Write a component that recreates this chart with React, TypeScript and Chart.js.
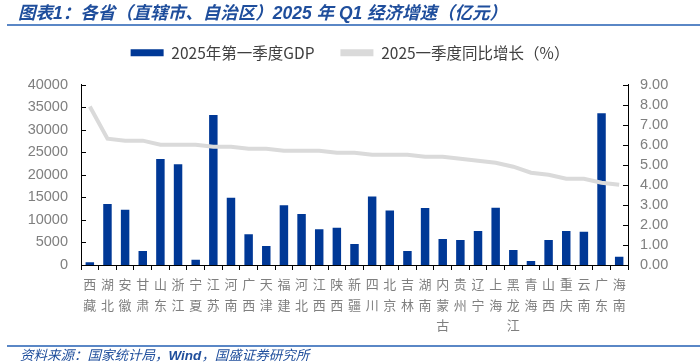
import React, { useEffect, useRef } from "react";
import { Chart, registerables } from "chart.js";

Chart.register(...registerables);

const provinces: string[][] = [
  ["西", "藏"], ["湖", "北"], ["安", "徽"], ["甘", "肃"], ["山", "东"], ["浙", "江"], ["宁", "夏"],
  ["江", "苏"], ["河", "南"], ["广", "西"], ["天", "津"], ["福", "建"], ["河", "北"], ["江", "西"],
  ["陕", "西"], ["新", "疆"], ["四", "川"], ["北", "京"], ["吉", "林"], ["湖", "南"], ["内", "蒙", "古"],
  ["贵", "州"], ["辽", "宁"], ["上", "海"], ["黑", "龙", "江"], ["青", "海"], ["山", "西"], ["重", "庆"],
  ["云", "南"], ["广", "东"], ["海", "南"],
];

const gdpQ1 = [
  600, 13530, 12270, 3100, 23500, 22300, 1180, 33260, 14930, 6790, 4210, 13220, 11310, 7900,
  8270, 4650, 15200, 12100, 3100, 12640, 5770, 5540, 7540, 12700, 3330, 890, 5540, 7540, 7390,
  33620, 1840,
];

const growthQ1 = [
  7.9, 6.3, 6.2, 6.2, 6.0, 6.0, 6.0, 5.9, 5.9, 5.8, 5.8, 5.7, 5.7, 5.7, 5.6, 5.6, 5.5, 5.5, 5.5,
  5.4, 5.4, 5.3, 5.2, 5.1, 4.9, 4.6, 4.5, 4.3, 4.3, 4.1, 4.0,
];

const seriesNames = ["2025年第一季度GDP", "2025一季度同比增长（%）"];

const BAR_COLOR = "#003896";
const LINE_COLOR = "#dadada";
const FONT_FAMILY = "'Liberation Sans', Arial, 'Noto Sans CJK SC', sans-serif";

const innerTicks = {
  id: "innerTicks",
  afterInit(chart: any) {
    const lg = chart.legend;
    if (lg && !lg.__patched) {
      const orig = lg.fit;
      lg.fit = function () {
        orig.call(this);
        this.height += 14;
      };
      lg.__patched = true;
    }
  },
  afterDraw(chart: any) {
    const ctx = chart.ctx;
    const area = chart.chartArea;
    ctx.save();
    ctx.strokeStyle = "#000";
    ctx.lineWidth = 1;
    ["y", "y1"].forEach((id) => {
      const s = chart.scales[id];
      if (!s) return;
      s.ticks.forEach((t: any) => {
        const py = Math.round(s.getPixelForValue(t.value)) + 0.5;
        ctx.beginPath();
        if (id === "y") {
          ctx.moveTo(area.left, py);
          ctx.lineTo(area.left + 5, py);
        } else {
          ctx.moveTo(area.right - 5, py);
          ctx.lineTo(area.right, py);
        }
        ctx.stroke();
      });
    });
    ctx.restore();
  },
};

export default function App() {
  const ref = useRef<HTMLCanvasElement>(null);

  useEffect(() => {
    if (!ref.current) return;
    const chart = new Chart(ref.current, {
      type: "bar",
      data: {
        labels: provinces as any,
        datasets: [
          {
            type: "bar",
            label: seriesNames[0],
            data: gdpQ1,
            backgroundColor: BAR_COLOR,
            borderWidth: 0,
            yAxisID: "y",
            order: 1,
            barPercentage: 0.48,
            categoryPercentage: 1,
          } as any,
          {
            type: "line",
            label: seriesNames[1],
            data: growthQ1,
            borderColor: LINE_COLOR,
            backgroundColor: LINE_COLOR,
            borderWidth: 4,
            pointRadius: 0,
            tension: 0,
            yAxisID: "y1",
            order: 0,
          } as any,
        ],
      },
      options: {
        responsive: false,
        animation: false,
        layout: { padding: { top: 19, left: 0, right: 0, bottom: 0 } },
        plugins: {
          tooltip: { enabled: false },
          legend: {
            position: "top",
            labels: {
              boxWidth: 33,
              boxHeight: 7,
              padding: 26,
              color: "#404040",
              font: { size: 15.5, family: "'Noto Sans CJK SC', 'Liberation Sans', sans-serif" },
              generateLabels: (ch: any) =>
                ch.data.datasets.map((d: any, i: number) => ({
                  text: d.label,
                  fillStyle: i === 0 ? BAR_COLOR : LINE_COLOR,
                  strokeStyle: i === 0 ? BAR_COLOR : LINE_COLOR,
                  lineWidth: 0,
                  hidden: false,
                  datasetIndex: i,
                  fontColor: "#404040",
                })),
            },
          },
        },
        scales: {
          x: {
            grid: {
              display: true,
              offset: true,
              drawOnChartArea: false,
              drawTicks: true,
              tickLength: 5,
              color: "#000",
            },
            border: { display: true, color: "#000", width: 1 },
            ticks: {
              color: "#7f7f7f",
              padding: 4,
              maxRotation: 0,
              autoSkip: false,
              font: { size: 13, family: "'Noto Sans CJK SC', sans-serif", lineHeight: "20.5px" as any },
            },
            afterFit: (s: any) => {
              s.height = 99;
            },
          },
          y: {
            position: "left",
            min: 0,
            max: 40000,
            grid: { display: false, drawTicks: false },
            border: { display: true, color: "#000", width: 1 },
            ticks: {
              stepSize: 5000,
              autoSkip: false,
              color: "#7f7f7f",
              padding: 13,
              font: { size: 14.5, family: FONT_FAMILY },
              callback: (v: any) => String(v),
            },
            afterFit: (s: any) => {
              s.width = 81;
            },
          },
          y1: {
            position: "right",
            min: 0,
            max: 9,
            grid: { display: false, drawTicks: false },
            border: { display: true, color: "#000", width: 1 },
            ticks: {
              stepSize: 1,
              autoSkip: false,
              count: 10,
              color: "#7f7f7f",
              padding: 12,
              font: { size: 14.5, family: FONT_FAMILY },
              callback: (v: any) => Number(v).toFixed(2),
            },
            afterFit: (s: any) => {
              s.width = 72;
            },
          },
        },
      },
      plugins: [innerTicks],
    });
    return () => chart.destroy();
  }, []);

  return (
    <div
      style={{
        position: "absolute",
        left: 0,
        top: 0,
        width: 700,
        height: 364,
        background: "#fff",
        overflow: "hidden",
      }}
    >
      <canvas ref={ref} width={700} height={364} style={{ position: "absolute", left: 0, top: 0 }} />
      <div
        style={{
          position: "absolute",
          left: 18,
          top: 3,
          fontFamily: "'Liberation Sans', Arial, 'Noto Sans CJK SC', sans-serif",
          fontSize: 17.5,
          fontWeight: "bold",
          fontStyle: "italic",
          color: "#1f4e9c",
          whiteSpace: "nowrap",
          lineHeight: "20px",
        }}
      >
        图表1：各省（直辖市、自治区）2025 年 Q1 经济增速（亿元）
      </div>
      <div
        style={{ position: "absolute", left: 7, top: 24, width: 693, height: 2, background: "#5a87c6" }}
      />
      <div
        style={{ position: "absolute", left: 7, top: 345, width: 693, height: 1.5, background: "#5a87c6" }}
      />
      <div
        style={{
          position: "absolute",
          left: 20,
          top: 347,
          fontFamily: "'Liberation Sans', Arial, 'Noto Sans CJK SC', sans-serif",
          fontSize: 13.5,
          fontStyle: "italic",
          color: "#1f4e9c",
          whiteSpace: "nowrap",
          lineHeight: "17px",
        }}
      >
        资料来源：国家统计局，<b>Wind</b>，国盛证券研究所
      </div>
    </div>
  );
}
